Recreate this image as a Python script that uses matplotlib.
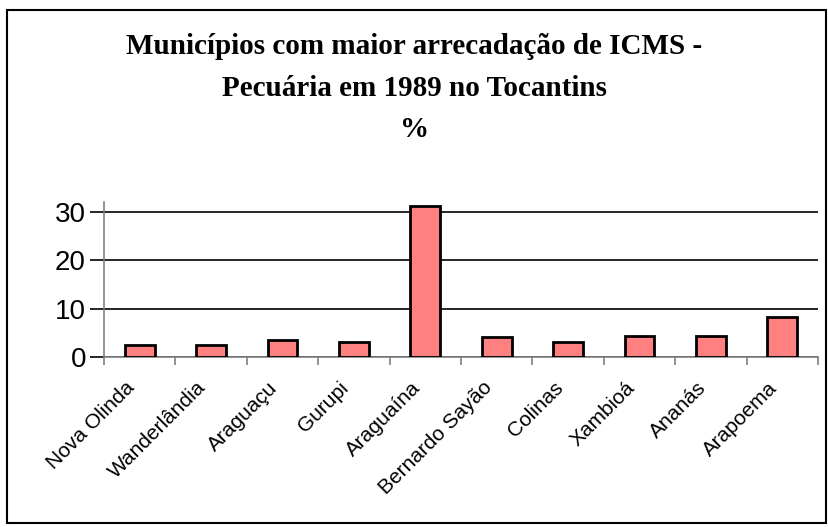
import matplotlib
matplotlib.use('Agg')
import matplotlib.pyplot as plt
import matplotlib.transforms as mtransforms
from matplotlib.patches import Rectangle

# dados
municipios = ['Nova Olinda', 'Wanderlândia', 'Araguaçu', 'Gurupi', 'Araguaína',
              'Bernardo Sayão', 'Colinas', 'Xambioá', 'Ananás', 'Arapoema']
percentuais = [2.4, 2.4, 3.6, 3.2, 31.2, 4.1, 3.2, 4.4, 4.4, 8.2]
y_ticks = [0, 10, 20, 30]

titulo = 'Municípios com maior arrecadação de ICMS -\nPecuária em 1989 no Tocantins\n%'

fig = plt.figure(figsize=(8.29, 5.27), dpi=100)
ax = fig.add_axes([104 / 829, 1 - 357 / 527, 714 / 829, 155 / 527])

pos = list(range(len(municipios)))
ax.bar(pos, percentuais, width=0.42, color='#ff8080', edgecolor='black', linewidth=2, zorder=3)

ax.set_xlim(-0.5, len(municipios) - 0.5)
ax.set_ylim(0, 32)
ax.set_yticks(y_ticks)
ax.set_yticklabels([str(v) for v in y_ticks], fontsize=20, family='Liberation Sans')
ax.yaxis.grid(True, color='black', linewidth=1.2, zorder=0)
ax.tick_params(axis='y', length=10, width=1.2, color='black', pad=3)

# marcas entre categorias no eixo x
ax.set_xticks([p - 0.5 for p in pos] + [len(municipios) - 0.5])
ax.set_xticklabels([])
ax.set_xticks(pos, minor=True)
ax.set_xticklabels(municipios, minor=True, rotation=45, ha='right', va='center',
                   rotation_mode='anchor', fontsize=15, family='Liberation Sans')
ax.tick_params(axis='x', which='major', length=6, width=1.2, color='gray', direction='out')
ax.tick_params(axis='x', which='minor', length=0, pad=20)
desloc = mtransforms.ScaledTranslation(-8 / 100, 0, fig.dpi_scale_trans)
for lbl in ax.get_xticklabels(minor=True):
    lbl.set_transform(lbl.get_transform() + desloc)

for s in ['top', 'right']:
    ax.spines[s].set_visible(False)
ax.spines['left'].set_color('gray')
ax.spines['left'].set_linewidth(1.2)
ax.spines['left'].set_bounds(0, 32)
ax.spines['bottom'].set_color('gray')
ax.spines['bottom'].set_linewidth(1.2)

fig.text(0.5, 1 - 88 / 527, titulo, ha='center', va='center', fontsize=21,
         fontweight='bold', family='Liberation Serif', linespacing=1.68)

# moldura do gráfico
fig.patches.append(Rectangle((7 / 829, 4 / 527), 819 / 829, 513 / 527, transform=fig.transFigure,
                             fill=False, edgecolor='black', linewidth=1.5))

fig.savefig('out.png', dpi=100)
